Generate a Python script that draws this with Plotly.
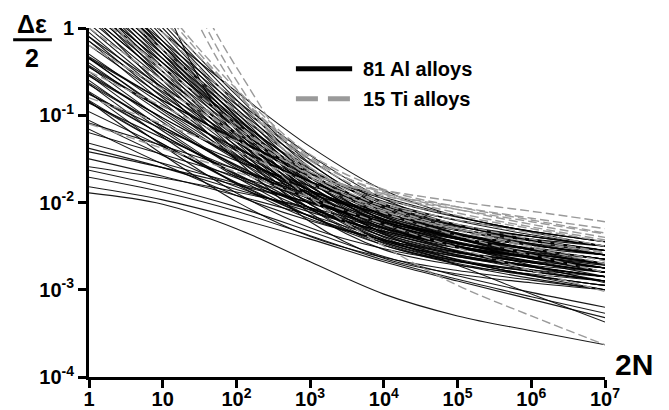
import plotly.graph_objects as go

# reversals to failure (2N) at which each curve was read
cycles = [1, 10, 100, 1e3, 1e4, 1e5, 1e6, 1e7]

# log10 of strain amplitude (Δε/2) read at each decade, 81 Al alloys
al_log_amp = [
    # steep curves leaving the top of the frame
    [1.0, 0.1, -0.77, -1.55, -2.05, -2.27, -2.39, -2.5],
    [0.95, 0.05, -0.82, -1.6, -2.1, -2.32, -2.44, -2.55],
    [0.9, 0.0, -0.87, -1.65, -2.15, -2.37, -2.49, -2.6],
    [0.85, -0.05, -0.92, -1.7, -2.2, -2.42, -2.54, -2.65],
    [0.8, -0.1, -0.97, -1.75, -2.25, -2.47, -2.59, -2.7],
    [0.75, -0.15, -1.02, -1.8, -2.3, -2.52, -2.64, -2.75],
    [0.7, -0.2, -1.07, -1.85, -2.35, -2.57, -2.69, -2.8],
    [0.65, -0.25, -1.12, -1.9, -2.4, -2.62, -2.74, -2.85],
    [0.6, -0.3, -1.17, -1.95, -2.45, -2.67, -2.79, -2.9],
    [0.65, -0.05, -0.73, -1.36, -1.86, -2.16, -2.33, -2.45],
    [0.55, -0.15, -0.83, -1.46, -1.96, -2.26, -2.43, -2.55],
    [0.5, -0.2, -0.88, -1.51, -2.01, -2.31, -2.48, -2.6],
    [0.45, -0.25, -0.93, -1.56, -2.06, -2.36, -2.53, -2.65],
    [0.4, -0.3, -0.98, -1.61, -2.11, -2.41, -2.58, -2.7],
    [0.35, -0.35, -1.03, -1.66, -2.16, -2.46, -2.63, -2.75],
    [0.3, -0.4, -1.08, -1.71, -2.21, -2.51, -2.68, -2.8],
    [0.25, -0.45, -1.13, -1.76, -2.26, -2.56, -2.73, -2.85],
    [0.15, -0.55, -1.23, -1.86, -2.36, -2.66, -2.83, -2.95],
    [0.65, -0.2, -1.01, -1.72, -2.14, -2.32, -2.42, -2.5],
    [0.6, -0.25, -1.06, -1.77, -2.19, -2.37, -2.47, -2.55],
    [0.55, -0.3, -1.11, -1.82, -2.24, -2.42, -2.52, -2.6],
    [0.5, -0.35, -1.16, -1.87, -2.29, -2.47, -2.57, -2.65],
    [0.45, -0.4, -1.21, -1.92, -2.34, -2.52, -2.62, -2.7],
    [0.4, -0.45, -1.26, -1.97, -2.39, -2.57, -2.67, -2.75],
    [0.35, -0.5, -1.31, -2.02, -2.44, -2.62, -2.72, -2.8],
    [0.3, -0.55, -1.36, -2.07, -2.49, -2.67, -2.77, -2.85],
    [0.25, -0.6, -1.41, -2.12, -2.54, -2.72, -2.82, -2.9],
    [0.15, -0.7, -1.51, -2.22, -2.64, -2.82, -2.92, -3.0],
    [0.3, -0.4, -1.05, -1.62, -2.02, -2.25, -2.39, -2.5],
    [0.25, -0.45, -1.1, -1.67, -2.07, -2.3, -2.44, -2.55],
    [0.2, -0.5, -1.15, -1.72, -2.12, -2.35, -2.49, -2.6],
    [0.15, -0.55, -1.2, -1.77, -2.17, -2.4, -2.54, -2.65],
    [0.1, -0.6, -1.25, -1.82, -2.22, -2.45, -2.59, -2.7],
    [0.05, -0.65, -1.3, -1.87, -2.27, -2.5, -2.64, -2.75],
    [0.0, -0.7, -1.35, -1.92, -2.32, -2.55, -2.69, -2.8],
    [-0.05, -0.75, -1.4, -1.97, -2.37, -2.6, -2.74, -2.85],
    [-0.1, -0.8, -1.45, -2.02, -2.42, -2.65, -2.79, -2.9],
    [-0.15, -0.85, -1.5, -2.07, -2.47, -2.7, -2.84, -2.95],
    [2.6, 0.3, -1.25, -1.95, -2.3, -2.5, -2.62, -2.72],
    # curves entering from the left edge between 0.1 and 1
    [-0.1, -0.68, -1.21, -1.66, -1.99, -2.21, -2.37, -2.5],
    [-0.2, -0.78, -1.31, -1.76, -2.09, -2.31, -2.47, -2.6],
    [-0.3, -0.88, -1.41, -1.86, -2.19, -2.41, -2.57, -2.7],
    [-0.4, -0.98, -1.51, -1.96, -2.29, -2.51, -2.67, -2.8],
    [-0.5, -1.08, -1.61, -2.06, -2.39, -2.61, -2.77, -2.9],
    [-0.6, -1.18, -1.71, -2.16, -2.49, -2.71, -2.87, -3.0],
    [-0.15, -0.73, -1.26, -1.71, -2.04, -2.26, -2.42, -2.55],
    [-0.35, -0.93, -1.46, -1.91, -2.24, -2.46, -2.62, -2.75],
    [-0.35, -0.83, -1.27, -1.66, -1.96, -2.17, -2.33, -2.45],
    [-0.45, -0.93, -1.37, -1.76, -2.06, -2.27, -2.43, -2.55],
    [-0.55, -1.03, -1.47, -1.86, -2.16, -2.37, -2.53, -2.65],
    [-0.65, -1.13, -1.57, -1.96, -2.26, -2.47, -2.63, -2.75],
    [-0.75, -1.23, -1.67, -2.06, -2.36, -2.57, -2.73, -2.85],
    [-0.85, -1.33, -1.77, -2.16, -2.46, -2.67, -2.83, -2.95],
    [-0.33, -0.83, -1.28, -1.66, -1.94, -2.16, -2.34, -2.5],
    [-0.43, -0.93, -1.38, -1.76, -2.04, -2.26, -2.44, -2.6],
    [-0.53, -1.03, -1.48, -1.86, -2.14, -2.36, -2.54, -2.7],
    [-0.63, -1.13, -1.58, -1.96, -2.24, -2.46, -2.64, -2.8],
    [-0.73, -1.23, -1.68, -2.06, -2.34, -2.56, -2.74, -2.9],
    [-0.83, -1.33, -1.78, -2.16, -2.44, -2.66, -2.84, -3.0],
    [-0.34, -0.95, -1.49, -1.89, -2.13, -2.28, -2.39, -2.5],
    [-0.44, -1.05, -1.59, -1.99, -2.23, -2.38, -2.49, -2.6],
    [-0.54, -1.15, -1.69, -2.09, -2.33, -2.48, -2.59, -2.7],
    [-0.64, -1.25, -1.79, -2.19, -2.43, -2.58, -2.69, -2.8],
    [-0.74, -1.35, -1.89, -2.29, -2.53, -2.68, -2.79, -2.9],
    [-0.84, -1.45, -1.99, -2.39, -2.63, -2.78, -2.89, -3.0],
    [-0.76, -1.16, -1.52, -1.81, -2.03, -2.2, -2.33, -2.45],
    [-0.86, -1.26, -1.62, -1.91, -2.13, -2.3, -2.43, -2.55],
    [-0.96, -1.36, -1.72, -2.01, -2.23, -2.4, -2.53, -2.65],
    [-1.06, -1.46, -1.82, -2.11, -2.33, -2.5, -2.63, -2.75],
    [-1.16, -1.56, -1.92, -2.21, -2.43, -2.6, -2.73, -2.85],
    # flat curves entering low on the left edge
    [-1.89, -2.02, -2.3, -2.68, -3.05, -3.3, -3.47, -3.63],
    [-1.82, -1.97, -2.18, -2.42, -2.68, -2.9, -3.11, -3.32],
    [-1.71, -1.88, -2.1, -2.38, -2.66, -2.88, -3.08, -3.27],
    [-1.63, -1.82, -2.05, -2.33, -2.62, -2.84, -3.03, -3.2],
    [-1.59, -1.72, -1.88, -2.06, -2.28, -2.5, -2.72, -2.92],
    [-1.42, -1.6, -1.8, -2.0, -2.2, -2.4, -2.6, -2.8],
    [-1.38, -1.6, -1.85, -2.08, -2.3, -2.5, -2.68, -2.85],
    [-1.32, -1.55, -1.78, -2.0, -2.22, -2.42, -2.6, -2.75],
    [-1.09, -1.35, -1.62, -1.88, -2.12, -2.35, -2.55, -2.72],
    [-1.2, -1.45, -1.7, -1.95, -2.2, -2.42, -2.62, -2.8],
    [-1.5, -1.7, -1.92, -2.15, -2.42, -2.72, -3.05, -3.37],
]

# log10 of strain amplitude (Δε/2) read at each decade, 15 Ti alloys
ti_log_amp = [
    [2.6, 1.0, -0.6, -1.68, -1.86, -1.99, -2.1, -2.22],
    [2.7, 1.1, -0.45, -1.6, -1.92, -2.08, -2.22, -2.36],
    [0.3, -0.5, -1.25, -1.95, -2.5, -2.95, -3.3, -3.63],
    [-1.1, -1.38, -1.65, -1.95, -2.25, -2.52, -2.78, -3.02],
    [1.2, 0.2, -0.75, -1.5, -1.88, -2.08, -2.25, -2.4],
    [0.8, -0.05, -0.85, -1.52, -1.95, -2.15, -2.3, -2.45],
    [0.5, -0.25, -0.95, -1.6, -2.0, -2.2, -2.35, -2.5],
    [0.2, -0.45, -1.1, -1.7, -2.1, -2.3, -2.45, -2.58],
    [-0.2, -0.7, -1.2, -1.68, -2.05, -2.3, -2.5, -2.67],
    [1.3, 0.25, -0.7, -1.45, -1.85, -2.05, -2.2, -2.35],
    [-0.5, -0.9, -1.3, -1.72, -2.08, -2.32, -2.52, -2.7],
    [0.0, -0.6, -1.15, -1.65, -2.02, -2.25, -2.42, -2.57],
    [-0.8, -1.1, -1.42, -1.78, -2.12, -2.38, -2.6, -2.8],
    [1.0, 0.1, -0.75, -1.48, -1.9, -2.12, -2.28, -2.43],
    [2.5, 0.85, -0.7, -1.64, -1.9, -2.05, -2.18, -2.3],
]

x_tick_vals = [1, 10, 100, 1e3, 1e4, 1e5, 1e6, 1e7]
x_tick_text = ["1", "10", "10<sup>2</sup>", "10<sup>3</sup>", "10<sup>4</sup>",
               "10<sup>5</sup>", "10<sup>6</sup>", "10<sup>7</sup>"]
y_tick_vals = [1e-4, 1e-3, 1e-2, 1e-1, 1]
y_tick_text = ["10<sup>-4</sup>", "10<sup>-3</sup>", "10<sup>-2</sup>", "10<sup>-1</sup>", "1"]

legend_labels = ["81 Al alloys", "15 Ti alloys"]

FONT = "Liberation Sans, Arial, sans-serif"

fig = go.Figure()
for vals in al_log_amp:
    fig.add_trace(go.Scatter(
        x=cycles, y=[10 ** v for v in vals], mode="lines",
        line=dict(color="rgba(0,0,0,0.9)", width=1.1, shape="spline", smoothing=1),
        showlegend=False, hoverinfo="skip"))
for vals in ti_log_amp:
    fig.add_trace(go.Scatter(
        x=cycles, y=[10 ** v for v in vals], mode="lines",
        line=dict(color="#9a9a9a", width=1.4, dash="9px,4px", shape="spline", smoothing=1),
        showlegend=False, hoverinfo="skip"))

# the page body adds an 8px offset, so the figure is 8px smaller than the window
fig.update_layout(
    width=661, height=402,
    margin=dict(l=81, r=64, t=20, b=33, autoexpand=False),
    paper_bgcolor="white", plot_bgcolor="white",
    font=dict(family=FONT, color="black"),
    showlegend=False,
)
fig.update_xaxes(
    type="log", range=[0, 7], showgrid=False, zeroline=False, automargin=False,
    showline=True, linewidth=3, linecolor="black",
    ticks="outside", ticklen=8, tickwidth=3, tickcolor="black",
    ticklabelstandoff=-6,
    tickvals=x_tick_vals, ticktext=x_tick_text,
    tickfont=dict(size=20, family=FONT, weight="bold", color="black"),
)
fig.update_yaxes(
    type="log", range=[-4, 0], showgrid=False, zeroline=False, automargin=False,
    showline=True, linewidth=3, linecolor="black",
    ticks="outside", ticklen=8, tickwidth=3, tickcolor="black",
    tickvals=y_tick_vals, ticktext=y_tick_text,
    tickfont=dict(size=20, family=FONT, weight="bold", color="black"),
)

# legend drawn by hand to match the long sample lines
fig.add_shape(type="line", xref="paper", yref="paper", x0=0.401, x1=0.510, y0=0.883, y1=0.883,
              line=dict(color="black", width=5))
fig.add_shape(type="line", xref="paper", yref="paper", x0=0.401, x1=0.510, y0=0.797, y1=0.797,
              line=dict(color="#9a9a9a", width=5, dash="22px,10px"))
fig.add_annotation(xref="paper", yref="paper", x=0.528, y=0.883, xanchor="left", yanchor="middle",
                   text="<b>%s</b>" % legend_labels[0], showarrow=False,
                   font=dict(size=20, family=FONT, color="black"))
fig.add_annotation(xref="paper", yref="paper", x=0.528, y=0.797, xanchor="left", yanchor="middle",
                   text="<b>%s</b>" % legend_labels[1], showarrow=False,
                   font=dict(size=20, family=FONT, color="black"))

# axis titles
fig.add_annotation(xref="paper", yref="paper", x=-0.110, y=1.011, xanchor="center", yanchor="middle",
                   text="<b>Δε</b>", showarrow=False, font=dict(size=25, family=FONT, color="black"))
fig.add_shape(type="line", xref="paper", yref="paper", x0=-0.147, x1=-0.072, y0=0.966, y1=0.966,
              line=dict(color="black", width=3))
fig.add_annotation(xref="paper", yref="paper", x=-0.110, y=0.914, xanchor="center", yanchor="middle",
                   text="<b>2</b>", showarrow=False, font=dict(size=25, family=FONT, color="black"))
fig.add_annotation(xref="paper", yref="paper", x=1.056, y=0.037, xanchor="center", yanchor="middle",
                   text="<b>2N</b>", showarrow=False, font=dict(size=30, family=FONT, color="black"))

fig.write_html("out.html")
